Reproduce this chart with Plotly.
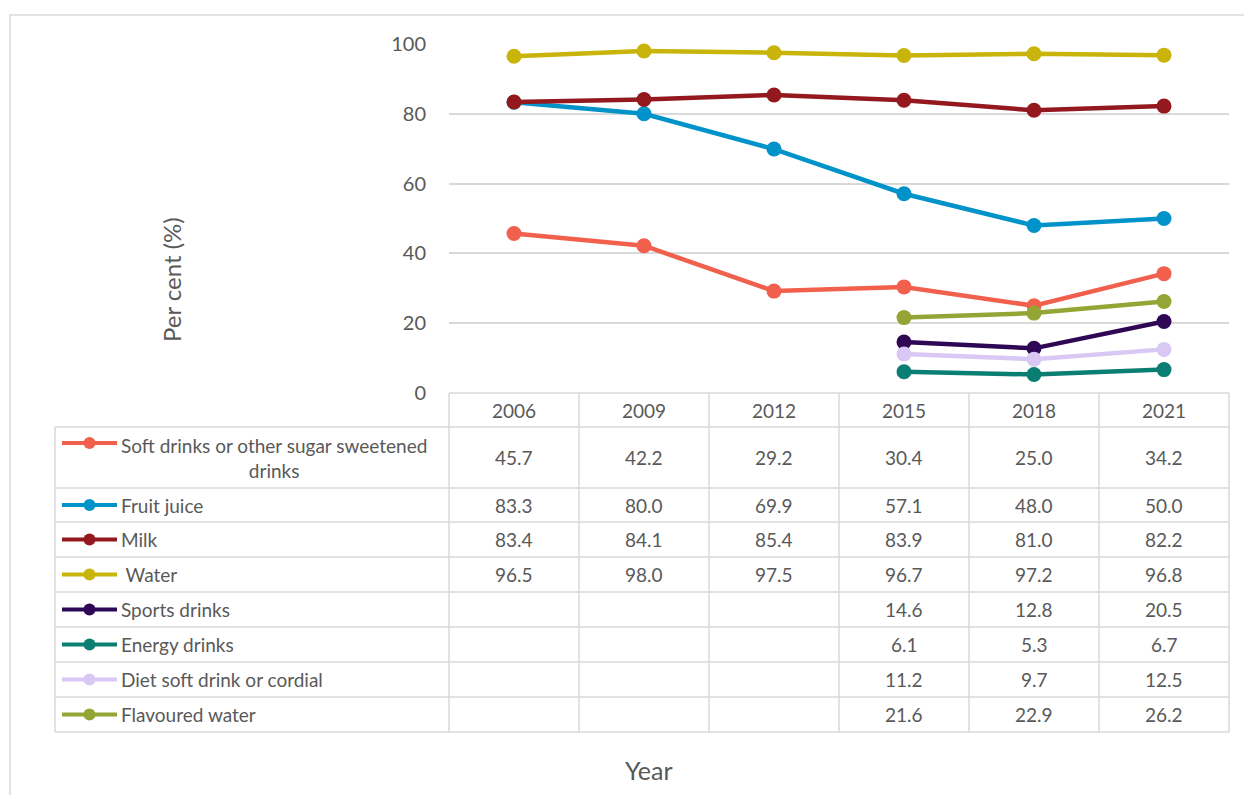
import plotly.graph_objects as go

W, H = 1244, 795

years = ["2006", "2009", "2012", "2015", "2018", "2021"]
series_names = [
    "Soft drinks or other sugar sweetened<br>drinks",
    "Fruit juice",
    "Milk",
    " Water",
    "Sports drinks",
    "Energy drinks",
    "Diet soft drink or cordial",
    "Flavoured water",
]
soft_drinks = [45.7, 42.2, 29.2, 30.4, 25.0, 34.2]
fruit_juice = [83.3, 80.0, 69.9, 57.1, 48.0, 50.0]
milk = [83.4, 84.1, 85.4, 83.9, 81.0, 82.2]
water = [96.5, 98.0, 97.5, 96.7, 97.2, 96.8]
sports_drinks = [None, None, None, 14.6, 12.8, 20.5]
energy_drinks = [None, None, None, 6.1, 5.3, 6.7]
diet_soft = [None, None, None, 11.2, 9.7, 12.5]
flavoured_water = [None, None, None, 21.6, 22.9, 26.2]
series_values = [soft_drinks, fruit_juice, milk, water, sports_drinks,
                 energy_drinks, diet_soft, flavoured_water]
colors = ["#F0604D", "#0093C9", "#93191E", "#C8B40A", "#2E0854",
          "#0A7E72", "#D9C8F3", "#94A535"]
y_ticks = [0, 20, 40, 60, 80, 100]

FONT = "Lato"
TXT = "#595959"
GRID = "#D9D9D9"

def px(x):
    return x / W

def py(y):
    return 1 - y / H

# layout geometry (pixels)
plot_left, plot_right = 449, 1229
plot_top, plot_bottom = 44, 393
col_w = (plot_right - plot_left) / len(years)
table_left = 55
row_edges = [393, 427, 488, 522, 557, 592, 627, 662, 697, 732]

fig = go.Figure()

# data lines
for name, vals, c in zip(series_names, series_values, colors):
    fig.add_trace(go.Scatter(
        x=years, y=vals, mode="lines+markers", name=name,
        line=dict(color=c, width=4.5),
        marker=dict(color=c, size=15, line=dict(width=0)),
        cliponaxis=False, showlegend=False, xaxis="x", yaxis="y"))

# legend keys in the table (pixel coordinate overlay axes)
for i, c in enumerate(colors):
    r0, r1 = row_edges[i + 1], row_edges[i + 2]
    yk = (r0 + r1) / 2 if i != 0 else r0 + 16
    fig.add_trace(go.Scatter(
        x=[62, 117], y=[yk, yk], mode="lines",
        line=dict(color=c, width=4),
        cliponaxis=False, showlegend=False, hoverinfo="skip",
        xaxis="x2", yaxis="y2"))
    fig.add_trace(go.Scatter(
        x=[89.5], y=[yk], mode="markers",
        marker=dict(color=c, size=12, line=dict(width=0)),
        cliponaxis=False, showlegend=False, hoverinfo="skip",
        xaxis="x2", yaxis="y2"))

shapes = []
annotations = []

# chart border
shapes.append(dict(type="rect", xref="paper", yref="paper", layer="below",
                   x0=px(10), x1=px(1260), y0=py(810), y1=py(15),
                   line=dict(color=GRID, width=1.5)))

# table lines
for k, y in enumerate(row_edges):
    x0 = plot_left if k == 0 else table_left
    shapes.append(dict(type="line", xref="paper", yref="paper", layer="below",
                       x0=px(x0), x1=px(plot_right), y0=py(y), y1=py(y),
                       line=dict(color=GRID, width=1.5)))
shapes.append(dict(type="line", xref="paper", yref="paper", layer="below",
                   x0=px(table_left), x1=px(table_left),
                   y0=py(row_edges[1]), y1=py(row_edges[-1]),
                   line=dict(color=GRID, width=1.5)))
for j in range(len(years) + 1):
    x = plot_left + j * col_w
    shapes.append(dict(type="line", xref="paper", yref="paper", layer="below",
                       x0=px(x), x1=px(x), y0=py(row_edges[0]), y1=py(row_edges[-1]),
                       line=dict(color=GRID, width=1.5)))

TS = 19

def ann(x, y, text, size=TS, xanchor="center", **kw):
    return dict(x=px(x), y=py(y), xref="paper", yref="paper", text=text,
                showarrow=False, xanchor=xanchor, yanchor="middle",
                font=dict(family=FONT, size=size, color=TXT), **kw)

# header years
for j, yr in enumerate(years):
    annotations.append(ann(plot_left + (j + 0.5) * col_w,
                           (row_edges[0] + row_edges[1]) / 2, yr))

# table values and series labels
for i, (name, vals) in enumerate(zip(series_names, series_values)):
    r0, r1 = row_edges[i + 1], row_edges[i + 2]
    yc = (r0 + r1) / 2
    annotations.append(ann(119, yc, name, xanchor="left", align="center"))
    for j, v in enumerate(vals):
        if v is None:
            continue
        annotations.append(ann(plot_left + (j + 0.5) * col_w, yc, f"{v:.1f}"))

# axis titles
annotations.append(ann(172, 280, "Per cent (%)", size=24, textangle=-90))
annotations.append(ann(649, 770, "Year", size=25))

fig.update_layout(
    width=W, height=H, margin=dict(l=0, r=0, t=0, b=0, pad=0, autoexpand=False),
    paper_bgcolor="white", plot_bgcolor="rgba(0,0,0,0)",
    xaxis=dict(domain=[px(plot_left), px(plot_right)], type="category",
               categoryorder="array", categoryarray=years,
               range=[-0.5, len(years) - 0.5], showticklabels=False,
               showgrid=False, zeroline=False, showline=False, ticks="",
               automargin=False),
    yaxis=dict(domain=[py(plot_bottom), py(plot_top)], range=[0, 100],
               tickvals=y_ticks, showgrid=True, gridcolor=GRID, gridwidth=1.5,
               zeroline=False, showline=False, ticks="",
               ticklabelstandoff=22, automargin=False,
               tickfont=dict(family=FONT, size=20, color=TXT)),
    xaxis2=dict(domain=[0, 1], range=[0, W], visible=False, anchor="y2",
                automargin=False),
    yaxis2=dict(domain=[0, 1], range=[H, 0], visible=False, anchor="x2",
                automargin=False),
    shapes=shapes, annotations=annotations,
)

fig.write_html("out.html")
